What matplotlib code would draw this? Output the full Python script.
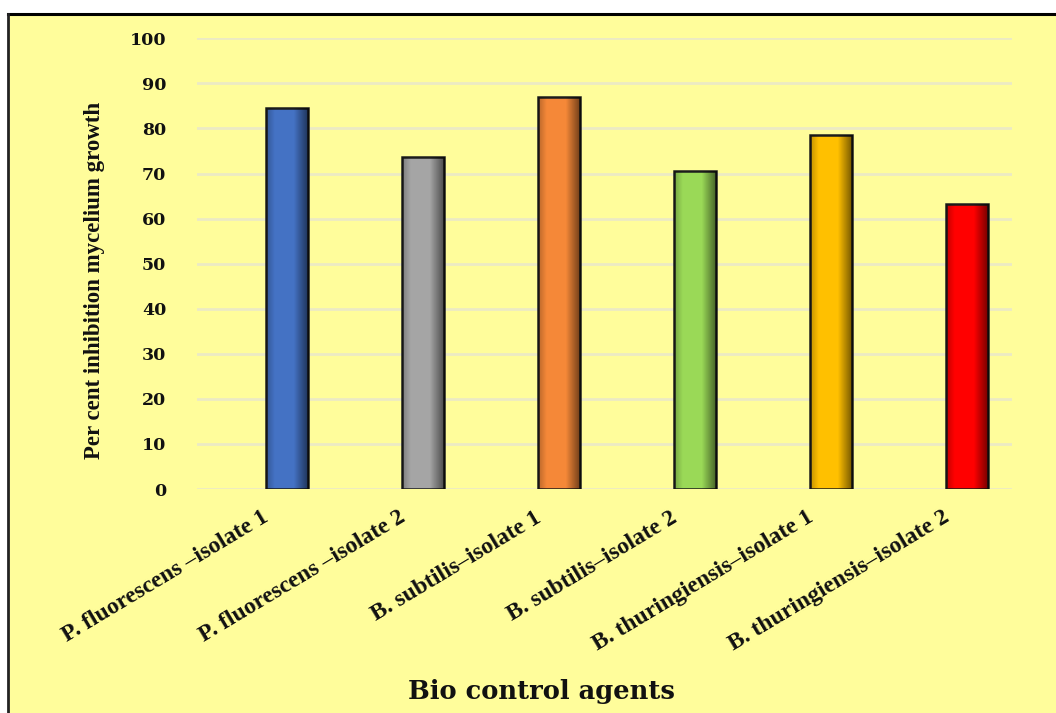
import numpy as np
import matplotlib.pyplot as plt
from matplotlib.patches import Rectangle
from matplotlib.lines import Line2D
from matplotlib import transforms

# data
agents = ["P. fluorescens \u2013isolate 1", "P. fluorescens \u2013isolate 2",
          "B. subtilis\u2013isolate 1", "B. subtilis\u2013isolate 2",
          "B. thuringiensis\u2013isolate 1", "B. thuringiensis\u2013isolate 2"]
inhibition = [84.5, 73.7, 86.9, 70.6, 78.5, 63.2]
colors = ["#4472C4", "#A5A5A5", "#F58838", "#9AD957", "#FFC000", "#FF0000"]
yticks = [0, 10, 20, 30, 40, 50, 60, 70, 80, 90, 100]

bg = "#FFFD9B"

fig = plt.figure(figsize=(10.56, 7.13), dpi=100)
fig.patch.set_facecolor("white")

# yellow panel with black frame on top and left
W, H = 1056, 713
fig.patches.append(Rectangle((8 / W, 0), 1, 1 - 14 / H, transform=fig.transFigure,
                             facecolor=bg, edgecolor="none", zorder=-10))
fig.lines.append(Line2D([8 / W, 1], [1 - 14 / H, 1 - 14 / H], transform=fig.transFigure,
                        color="black", lw=2.2, zorder=-9))
fig.lines.append(Line2D([8 / W, 8 / W], [0, 1 - 14 / H], transform=fig.transFigure,
                        color="#222222", lw=2.0, zorder=-9))

ax = fig.add_axes([197 / W, 1 - 489 / H, (1012 - 197) / W, (489 - 38.3) / H])
ax.set_facecolor("none")

x = np.arange(len(agents))
bars = ax.bar(x, inhibition, width=0.31, color=colors, edgecolor="#1c1c1c",
              linewidth=1.8, zorder=3)

# bevel-like shading on each bar
shade = np.zeros((1, 60, 4))
pos = np.linspace(0, 1, 60)
alpha = np.clip(np.where(pos < 0.2, (0.2 - pos) * 1.2, 0) +
                np.where(pos > 0.65, (pos - 0.65) * 1.6, 0), 0, 0.55)
shade[0, :, 3] = alpha
for b in bars:
    im = ax.imshow(shade, extent=(b.get_x(), b.get_x() + b.get_width(), 0, b.get_height()),
                   aspect="auto", zorder=4, interpolation="bilinear")
    im.set_clip_path(b)

ax.set_xlim(-0.66, 5.33)
ax.set_ylim(0, 100)
ax.set_yticks(yticks)
ax.set_yticklabels([str(v) for v in yticks], family="DejaVu Serif", fontweight="bold",
                   fontsize=12.5, color="#111111")
ax.tick_params(axis="y", length=0, pad=22)
ax.set_xticks([])
ax.grid(axis="y", color="#ECEAC4", linewidth=2.0, zorder=0)
for s in ax.spines.values():
    s.set_visible(False)

for i, name in enumerate(agents):
    off = transforms.ScaledTranslation(-25 / 100, -18 / 100, fig.dpi_scale_trans)
    ax.text(i, 0, name, transform=ax.get_xaxis_transform() + off, rotation=31,
            ha="right", va="top", rotation_mode="anchor", family="Liberation Serif",
            fontweight="bold", fontsize=17, color="#111111")

fig.text(95 / W, 1 - 280 / H, "Per cent inhibition mycelium growth", rotation=90,
         ha="center", va="center", family="Liberation Serif", fontweight="bold",
         fontsize=16.5, color="#111111")
fig.text(541 / W, 1 - 692 / H, "Bio control agents", ha="center", va="center",
         family="DejaVu Serif", fontweight="bold", fontsize=18.5, color="#111111")

fig.savefig("out.png", dpi=100, facecolor=fig.get_facecolor())
